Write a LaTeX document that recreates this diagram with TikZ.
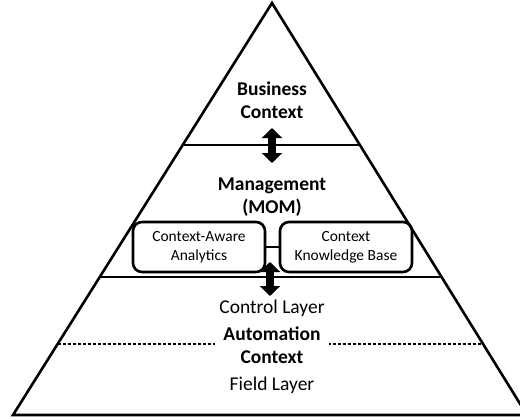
\documentclass[tikz,border=0pt]{standalone}
\usepackage{fontspec}
\setmainfont{Carlito}
\usetikzlibrary{calc,arrows.meta}
\begin{document}
\begin{tikzpicture}[x=1pt, y=-1pt,
    layer/.style={font=\fontsize{19.5}{22}\selectfont, align=center},
    context/.style={font=\fontsize{19.5}{23}\selectfont\bfseries, align=center},
    module/.style={draw, line width=2.6pt, rounded corners=9pt, minimum width=132pt, minimum height=50pt, align=center, font=\fontsize{15.5}{19}\selectfont, inner sep=0pt},
    fatarrow/.style={line width=8pt, {Triangle[width=20pt,length=10pt]}-{Triangle[width=20pt,length=10pt]}}]
      \useasboundingbox (0,0) rectangle (520,420);
      % pyramid outline
      \coordinate (apex) at (272,3);
      \coordinate (bl) at (13,415);
      \coordinate (br) at (527,415);
      \draw [line width=2.6pt, line join=miter] (bl) -- (apex) -- (br) -- cycle;
      % level borders
      \coordinate (topL) at ($(apex)!0.345!(bl)$);
      \coordinate (topR) at ($(apex)!0.345!(br)$);
      \coordinate (midL) at ($(apex)!0.665!(bl)$);
      \coordinate (midR) at ($(apex)!0.665!(br)$);
      \coordinate (lowL) at ($(apex)!0.828!(bl)$);
      \coordinate (lowR) at ($(apex)!0.828!(br)$);
      \draw [line width=2pt] (topL) -- (topR);
      \draw [line width=2pt] (midL) -- (midR);
      \draw [line width=1.4pt, dash pattern=on 3pt off 2pt] (lowL) -- (lowR);
      % levels
      \node (business) [context] at (272,100) {Business\\Context};
      \node (mom) [context] at (272,197) {Management\\(MOM)};
      \node (analytics) [module] at (199,247) {Context-Aware\\Analytics};
      \node (knowledge) [module] at (346,247) {Context\\Knowledge Base};
      \node (control) [layer] at (272,308) {Control Layer};
      \node (automation) [context, fill=white, inner xsep=8pt, inner ysep=0pt] at (272,345) {Automation\\Context};
      \node (field) [layer] at (272,385) {Field Layer};
      \draw [line width=2pt] (analytics) -- (knowledge);
      % exchange arrows
      \coordinate (upA) at (272,128);
      \coordinate (upB) at (272,163);
      \coordinate (lowA) at (270,262);
      \coordinate (lowB) at (270,296);
      \draw [fatarrow] (upA) -- (upB);
      \draw [fatarrow] (lowA) -- (lowB);
  \end{tikzpicture}
\end{document}
